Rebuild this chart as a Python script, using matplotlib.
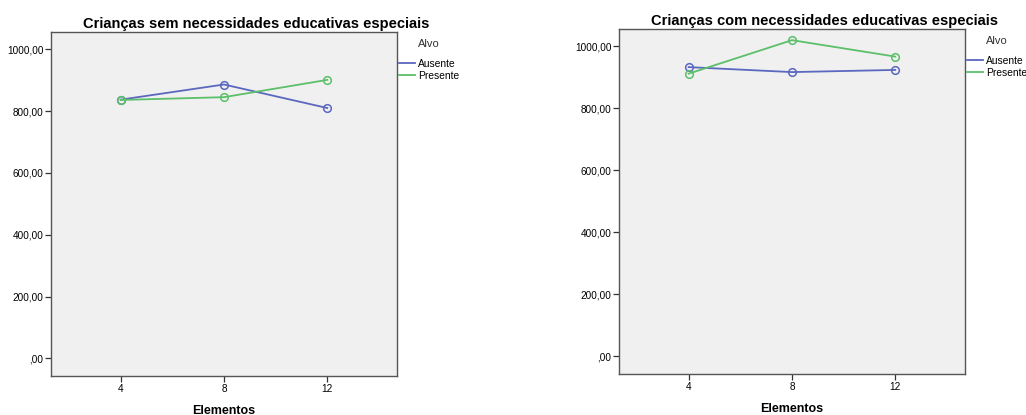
import matplotlib.pyplot as plt
from matplotlib.ticker import FuncFormatter

plt.rcParams['font.family'] = ['Liberation Sans', 'DejaVu Sans']

# data
elementos = [4, 8, 12]
sem_ausente = [837, 886, 810]
sem_presente = [836, 845, 901]
com_ausente = [933, 917, 924]
com_presente = [912, 1020, 967]

titles = ['Crianças sem necessidades educativas especiais',
          'Crianças com necessidades educativas especiais']
series_labels = ['Ausente', 'Presente']
blue = '#5b68bf'
green = '#5cbf6a'


def spss_fmt(v, pos):
    s = f'{v:.2f}'.replace('.', ',')
    if s.startswith('0,'):
        s = s[1:]
    return s


fig = plt.figure(figsize=(10.26, 4.15), dpi=100)
axes = [fig.add_axes([0.0497, 0.0940, 0.3372, 0.8290]),
        fig.add_axes([0.6033, 0.0988, 0.3372, 0.8313])]
data = [(sem_ausente, sem_presente), (com_ausente, com_presente)]

for ax, title, (aus, pres) in zip(axes, titles, data):
    ax.set_facecolor('#f0f0f0')
    ax.plot(elementos, aus, color=blue, lw=1.3, marker='o', ms=5.5,
            mfc='none', mew=1.1, label=series_labels[0])
    ax.plot(elementos, pres, color=green, lw=1.3, marker='o', ms=5.5,
            mfc='none', mew=1.1, label=series_labels[1])
    ax.set_xlim(1.3, 14.7)
    ax.set_ylim(-57, 1056)
    ax.set_xticks(elementos)
    ax.set_yticks([0, 200, 400, 600, 800, 1000])
    ax.yaxis.set_major_formatter(FuncFormatter(spss_fmt))
    ax.tick_params(labelsize=7.2, length=4, width=0.9, color='#333333', pad=1.5)
    for sp in ax.spines.values():
        sp.set_color('#555555')
        sp.set_linewidth(1.0)
    ax.set_title(title, fontsize=10.5, fontweight='bold', pad=3, x=0.593)
    ax.set_xlabel('Elementos', fontsize=9, fontweight='bold', labelpad=8)
    ax.text(1.061, 0.965, 'Alvo', transform=ax.transAxes, fontsize=8,
            ha='left', va='center', color='#333333')
    leg = ax.legend(loc='upper left', bbox_to_anchor=(1.007, 0.922), frameon=False,
                    fontsize=7.4, handlelength=1.5, handletextpad=0.3,
                    labelspacing=0.2, borderaxespad=0, borderpad=0)
    for h in leg.legend_handles:
        h.set_marker('')

fig.savefig('out.png', dpi=100)
